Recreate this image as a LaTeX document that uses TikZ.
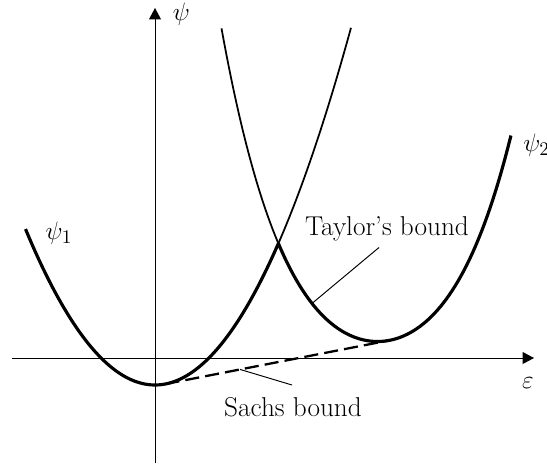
\documentclass[tikz,border=0pt]{standalone}
\usepackage{amsmath, amssymb}
\usepackage{tikz}
\usetikzlibrary{calc, arrows.meta, positioning}

\tikzset{
    declare function={
        psia(\x)=0.465*\x*\x-0.54;
        psib(\x)=0.33+0.401*(\x-4.45)*(\x-4.45)+0.0249*(\x-4.45)*(\x-4.45)*(\x-4.45)*(\x-4.45);
    },
    axe/.style={line width=0.55pt},
    envelope/.style={line width=1.8pt, line join=round},
    branch/.style={line width=1pt},
    lbl/.style={font=\fontsize{15.5}{18}\selectfont},
    leader/.style={line width=0.55pt},
}

\begin{document}
\begin{tikzpicture}[>={Triangle[length=6.5pt,width=6.8pt]}]
    % --- Frame of the picture ---
    \useasboundingbox (-3.1,-2.1) rectangle (7.84,7.16);
    % Abscissa of the crossing and of the two tangency points
    \def\xc{2.467}
    \def\pa{0.21}
    \def\pb{4.69}

    % Axes
    \coordinate (xs) at (-2.86,0);
    \coordinate (xe) at (7.58,0);
    \coordinate (ys) at (0,-2.1);
    \coordinate (ye) at (0,7.0);
    \draw[axe, ->] (xs) -- (xe);
    \draw[axe, ->] (ys) -- (ye);
    \node[lbl] (eps) at (7.46,-0.5) {$\varepsilon$};
    \node[lbl] (psi) at (0.53,6.88) {$\psi$};

    % Thin branches above the crossing
    \draw[branch] plot[domain=\xc:3.92, samples=40] (\x,{psia(\x)});
    \draw[branch] plot[domain=1.33:\xc, samples=40] (\x,{psib(\x)});
    % Thick lower envelope (Taylor)
    \draw[envelope] plot[domain=-2.59:\xc, samples=80] (\x,{psia(\x)})
        -- plot[domain=\xc:7.12, samples=80] (\x,{psib(\x)});

    % Common tangent (Sachs)
    \coordinate (ta) at (\pa,{psia(\pa)});
    \coordinate (tb) at (\pb,{psib(\pb)});
    \draw[line width=1.3pt, dash pattern=on 8pt off 3.5pt] (ta) -- (tb);

    % Labels
    \node[lbl] (psi1) at (-1.92,2.5) {$\psi_1$};
    \node[lbl, anchor=west, inner sep=0pt] (psi2) at (7.36,4.26) {$\psi_2$};
    \node[lbl] (taylor) at (4.64,2.58) {Taylor's bound};
    \node[lbl] (sachs) at (2.76,-0.98) {Sachs bound};

    % Leaders
    \coordinate (tp) at (3.14,{psib(3.14)});
    \coordinate (sp) at ($(ta)!0.333!(tb)$);
    \coordinate (se) at (2.74,-0.54);
    \draw[leader] ([xshift=-4.5pt]taylor.south) -- (tp);
    \draw[leader] (sp) -- (se);
\end{tikzpicture}
\end{document}
